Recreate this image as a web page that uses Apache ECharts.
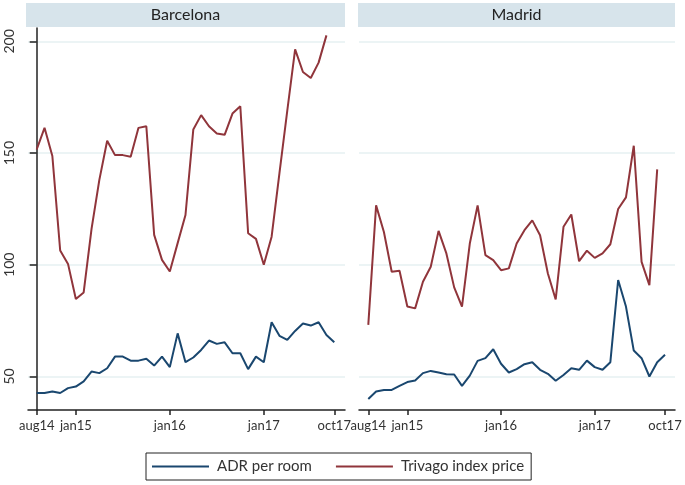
<!DOCTYPE html>
<html lang="en">

<head>
    <meta charset="UTF-8">
    <title>ADR vs Trivago</title>
    <script src="https://cdn.jsdelivr.net/npm/echarts@6/dist/echarts.min.js"></script>
    <style>
        body {
            margin: 0;
            background: #fff;
        }

        #chart {
            width: 685px;
            height: 485px;
        }
    </style>
</head>

<body>
    <div id="chart"></div>

    <script>
        // monthly series aug14 .. oct17
        const months = ['aug14', 'sep14', 'oct14', 'nov14', 'dec14',
            'jan15', 'feb15', 'mar15', 'apr15', 'may15', 'jun15', 'jul15', 'aug15', 'sep15', 'oct15', 'nov15', 'dec15',
            'jan16', 'feb16', 'mar16', 'apr16', 'may16', 'jun16', 'jul16', 'aug16', 'sep16', 'oct16', 'nov16', 'dec16',
            'jan17', 'feb17', 'mar17', 'apr17', 'may17', 'jun17', 'jul17', 'aug17', 'sep17', 'oct17']
        const xTickLabels = ['aug14', 'jan15', 'jan16', 'jan17', 'oct17']
        const yTicks = [50, 100, 150, 200]

        const bcnAdr = [42.6, 42.6, 43.3, 42.6, 44.8, 45.5, 47.8, 52.2, 51.5, 53.7, 58.9, 58.9, 57.1, 57.1, 57.9, 54.9,
            58.9, 54.2, 69.3, 56.4, 58.5, 61.9, 66.1, 64.6, 65.3, 60.4, 60.4, 53.3, 58.9, 56.4, 74.3, 68.2, 66.4,
            70.4, 73.7, 72.8, 74.3, 68.6, 65.3]
        const bcnTrivago = [151.6, 161.3, 148.7, 106.4, 100.4, 84.7, 87.6, 116, 138, 155.5, 149.1, 149.1, 148.4,
            161.3, 162, 113.4, 102.2, 97, 109.7, 122.3, 160.6, 167, 162, 158.8, 158.2, 167.7, 171, 114.1, 111.6,
            100, 112.6, 141, 169, 196.4, 186.3, 183.6, 190.5, 202.7, null]

        const madAdr = [39.9, 43.3, 44, 44, 45.8, 47.5, 48.2, 51.5, 52.5, 51.8, 51, 50.9, 45.8, 50.4, 57, 58.2,
            62.2, 55.7, 51.8, 53.3, 55.5, 56.4, 53, 51.2, 48.1, 50.7, 53.7, 53, 57.1, 54.2, 53, 56.4, 93.2,
            81.3, 61.6, 58.2, 50, 56.4, 59.7]
        const madTrivago = [73.1, 126.6, 114.7, 96.9, 97.3, 81.3, 80.5, 92.4, 99.1, 115.2, 105.1, 89.9, 81.3,
            109.5, 126.6, 104.3, 102.1, 97.6, 98.4, 109.5, 115.5, 119.9, 113.2, 96.1, 84.5, 117, 122.5, 101.6,
            106.3, 103.1, 105.1, 109.2, 125, 130.2, 153.3, 101.3, 90.9, 142.7, null]

        const navy = '#1a476f'
        const maroon = '#90353b'
        const gridColor = '#e6f0f2'
        const font = 'Lato, "DejaVu Sans", sans-serif'

        function pairs(arr) {
            return arr.map((v, i) => [i, v]).filter(p => p[1] !== null)
        }

        const xTickIdx = xTickLabels.map(l => months.indexOf(l))

        function xAxis(gridIndex, min, max) {
            return {
                type: 'value',
                gridIndex: gridIndex,
                min: min,
                max: max,
                axisLine: { show: true, onZero: false, lineStyle: { color: '#222', width: 1.5 } },
                axisTick: { show: true, customValues: xTickIdx, length: 5, lineStyle: { color: '#222', width: 1.5 } },
                axisLabel: {
                    customValues: xTickIdx,
                    formatter: v => months[v],
                    margin: 9,
                    color: '#333',
                    fontSize: 13,
                    fontFamily: font,
                    hideOverlap: false
                },
                splitLine: { show: false }
            }
        }

        function yAxis(gridIndex, showAxis) {
            return {
                type: 'value',
                gridIndex: gridIndex,
                min: 35,
                max: 206,
                axisLine: { show: showAxis, lineStyle: { color: '#222', width: 1.5 } },
                axisTick: { show: showAxis, customValues: yTicks, length: 7, lineStyle: { color: '#222', width: 1.5 } },
                axisLabel: {
                    show: showAxis,
                    customValues: yTicks,
                    rotate: 90,
                    margin: 12,
                    color: '#333',
                    fontSize: 14,
                    fontFamily: font
                },
                splitLine: { show: true, lineStyle: { color: gridColor, width: 1.5 } }
            }
        }

        function line(name, data, color, idx) {
            return {
                name: name,
                type: 'line',
                xAxisIndex: idx,
                yAxisIndex: idx,
                data: pairs(data),
                showSymbol: false,
                lineStyle: { color: color, width: 2 },
                itemStyle: { color: color },
                animation: false
            }
        }

        function strip(x1, x2, text) {
            return [
                {
                    type: 'rect',
                    shape: { x: x1, y: 3, width: x2 - x1, height: 24 },
                    style: { fill: '#d7e4eb' }
                },
                {
                    type: 'text',
                    x: (x1 + x2) / 2,
                    y: 15,
                    style: {
                        text: text, fill: '#222', fontSize: 16, fontFamily: font,
                        align: 'center', verticalAlign: 'middle'
                    }
                }
            ]
        }

        var chartDom = document.getElementById('chart');
        var myChart = echarts.init(chartDom);
        var option;

        option = {
            animation: false,
            grid: [
                { left: 28, top: 28, width: 317, height: 382 },
                { left: 359, top: 28, width: 316, height: 382 }
            ],
            xAxis: [xAxis(0, -1.11, 39.37), xAxis(1, -1.19, 39.28)],
            yAxis: [yAxis(0, true), yAxis(1, false)],
            legend: {
                left: 146,
                top: 453,
                borderColor: '#222',
                borderWidth: 1,
                borderRadius: 0,
                padding: [6, 7, 6, 6],
                itemGap: 24,
                itemWidth: 57,
                itemHeight: 2,
                icon: 'rect',
                textStyle: { fontSize: 15, color: '#333', fontFamily: font, padding: [0, 0, 0, 3] },
                data: ['ADR per room', 'Trivago index price']
            },
            graphic: [].concat(strip(26, 345, 'Barcelona'), strip(358, 675, 'Madrid')),
            series: [
                line('ADR per room', bcnAdr, navy, 0),
                line('Trivago index price', bcnTrivago, maroon, 0),
                line('ADR per room', madAdr, navy, 1),
                line('Trivago index price', madTrivago, maroon, 1)
            ]
        };

        option && myChart.setOption(option);
    </script>
</body>

</html>
